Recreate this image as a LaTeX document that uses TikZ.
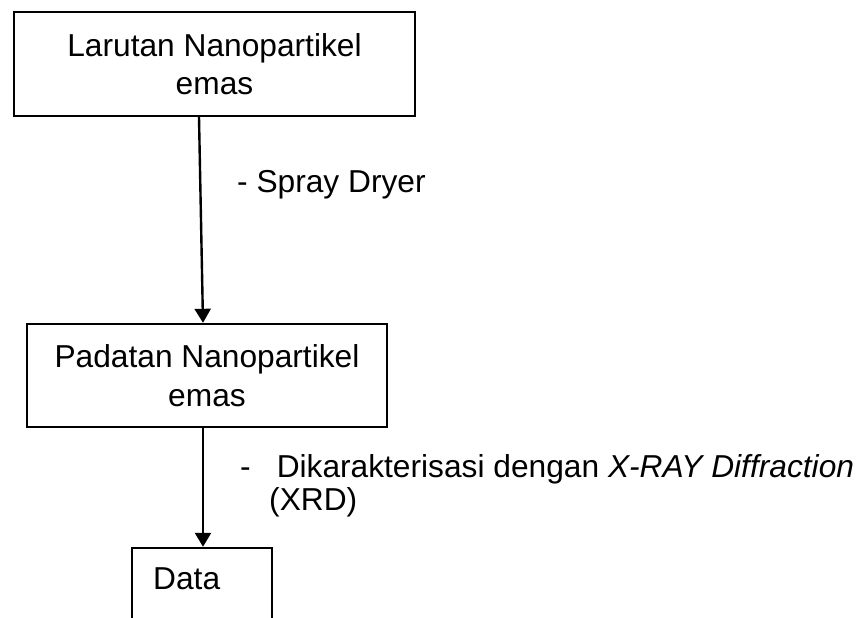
\documentclass[tikz,border=0pt]{standalone}
\usepackage{fontspec}
\setmainfont{Liberation Sans}
\usetikzlibrary{arrows.meta}
\tikzset{
  txt/.style={font=\fontsize{31.7}{38.5}\selectfont},
  box/.style={txt, draw, line width=2.4pt, align=center, inner sep=0pt},
  lbl/.style={txt, anchor=base west, inner sep=0pt},
  flow/.style={line width=2.4pt, -{Triangle[width=16pt,length=14pt]}}
}
\begin{document}
\begin{tikzpicture}[x=1pt,y=1pt]
  \clip (0,0) rectangle (868,-618);
  \fill[white] (0,0) rectangle (868,-618);

  % process boxes
  \node[box, minimum width=401pt, minimum height=104pt] (larutan) at (214.5,-64)
    {Larutan Nanopartikel\\emas};
  \node[box, minimum width=360pt, minimum height=103pt] (padatan) at (207,-375.5)
    {Padatan Nanopartikel\\emas};
  % result box, continuing past the lower edge
  \node[draw, line width=2.4pt, minimum width=140pt, minimum height=110pt,
        inner sep=0pt] (data) at (202,-603) {};
  \node[lbl] (datatext) at (153,-589) {Data};

  % connectors
  \draw[flow] ([xshift=-15.5pt]larutan.south) -- ([xshift=-4pt]padatan.north);
  \draw[flow] ([xshift=-4pt]padatan.south) -- ([xshift=1pt]data.north);

  % step labels
  \node[lbl] (spray) at (237,-192) {- Spray Dryer};
  \node[lbl] (xrd1) at (240,-477)
    {-\hspace{26pt}Dikarakterisasi dengan \textit{X-RAY Diffraction}};
  \node[lbl] (xrd2) at (269,-510) {(XRD)};
\end{tikzpicture}
\end{document}
